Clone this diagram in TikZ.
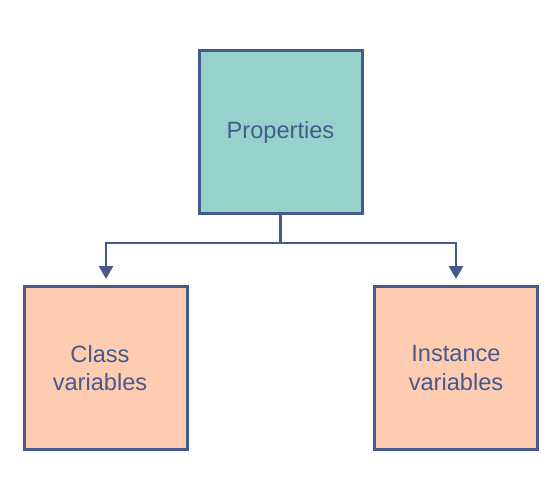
\documentclass[tikz,border=0pt]{standalone}
\usepackage{fontspec}
\setmainfont{Liberation Sans}
\usepackage{tikz}
\usetikzlibrary{arrows.meta,%
		positioning,%
		shapes}

\definecolor{inkblue}{HTML}{475A8D}
\definecolor{tealfill}{HTML}{97D1CC}
\definecolor{peachfill}{HTML}{FECCB1}

\begin{document}
\begin{tikzpicture}[x=0.5pt,y=-0.5pt,
    font=\fontsize{11.8}{14.4}\selectfont,
    box/.style={draw=inkblue,line width=1.5pt,text=inkblue,align=center,
      minimum width=81.5pt,minimum height=81.5pt,inner sep=0pt},
    link/.style={draw=inkblue,line width=1.4pt},
    arrow/.style={link,-{Triangle[width=7pt,length=6.5pt]},shorten >=3pt}]
  \useasboundingbox (0,0) rectangle (550,476);

  \node [box,fill=tealfill] (props) at (280.5,132) {Properties};
  \node [box,fill=peachfill,text width=81.5pt] (class) at (106,368)
    {\hspace*{-6pt}Class\\\hspace*{-6pt}variables};
  \node [box,fill=peachfill] (inst) at (456,368) {Instance\\variables};

  \coordinate (split) at (280.5,243);
  \draw [link] (props.south) -- (split);
  \draw [arrow] (split) -| (class.north);
  \draw [arrow] (split) -| (inst.north);

%  \foreach \n in {props,class,inst}
%    \filldraw[inkblue] (\n.center) circle (1pt);

\end{tikzpicture}
\end{document}
